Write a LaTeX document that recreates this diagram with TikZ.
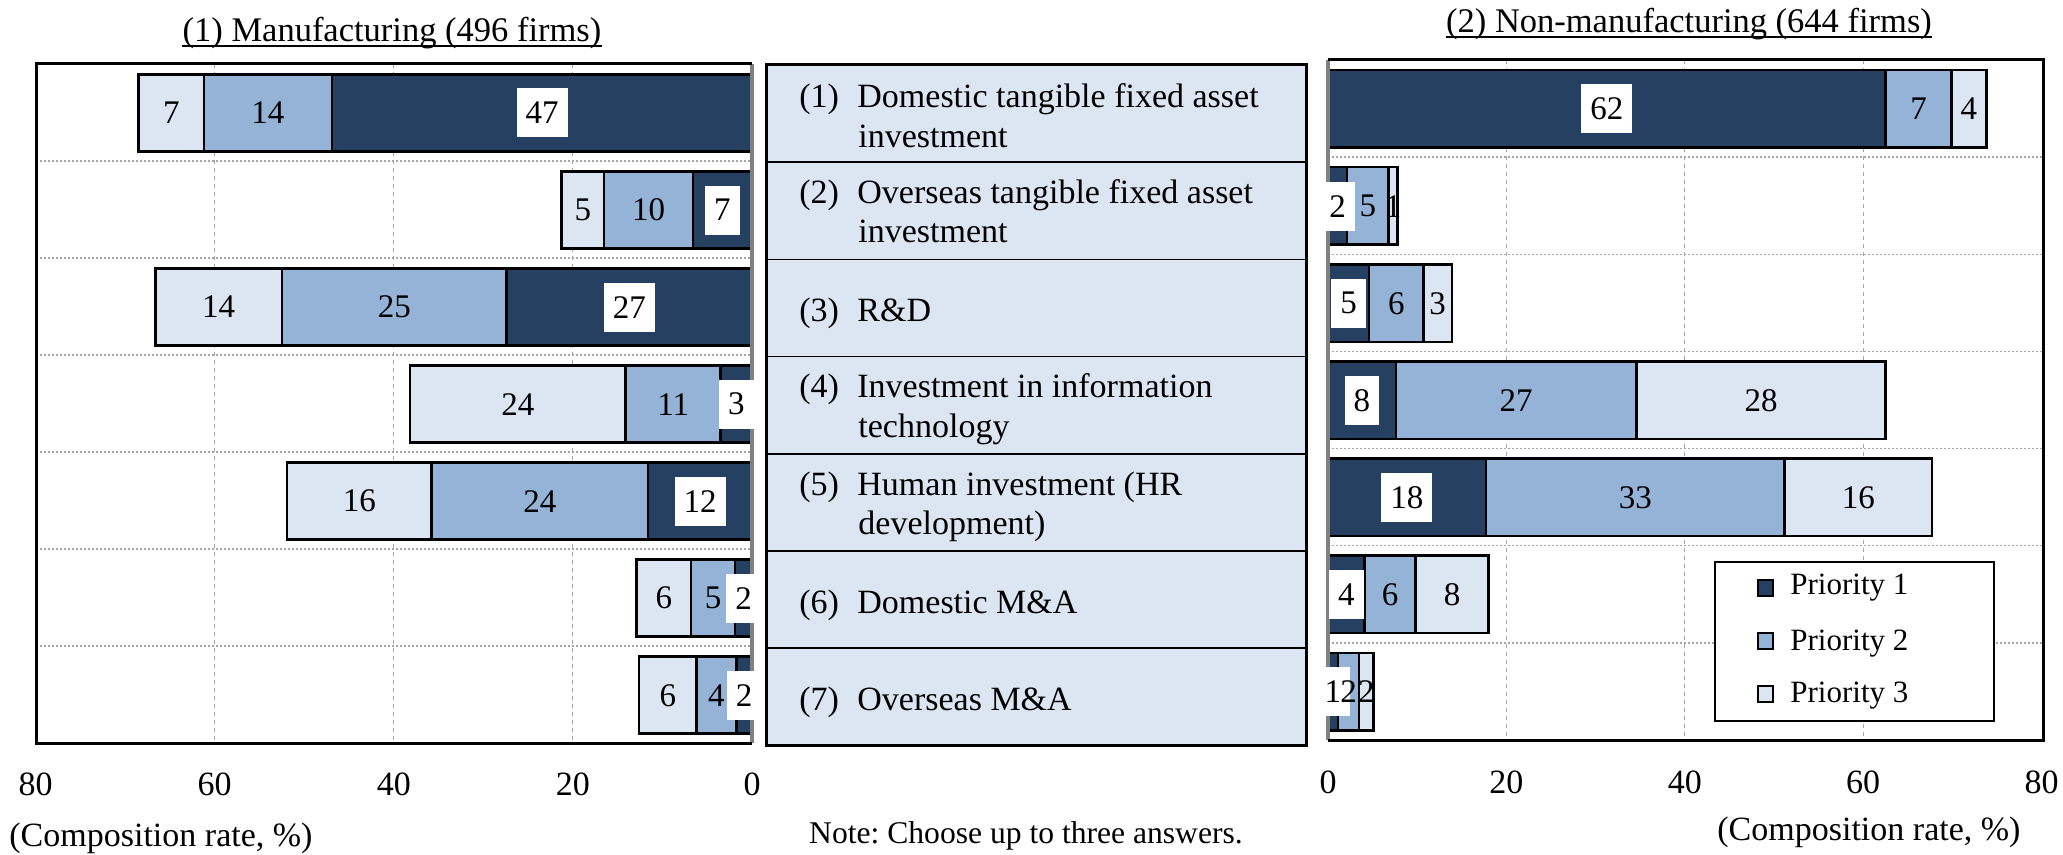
\documentclass[tikz,border=0pt]{standalone}
\usepackage{fontspec}
\setmainfont{Liberation Serif}
\frenchspacing
\definecolor{pone}{RGB}{38,64,97}
\definecolor{ptwo}{RGB}{149,179,215}
\definecolor{pthree}{RGB}{220,230,242}
\definecolor{midfill}{RGB}{220,230,242}
\definecolor{gridgray}{RGB}{166,166,166}
\definecolor{axisgray}{RGB}{128,128,128}
\tikzset{
  seg/.style={draw=black, line width=1.25pt},
  vgrid/.style={draw=gridgray, line width=0.5pt, dash pattern=on 2pt off 2pt},
  hgrid/.style={draw=gridgray, line width=0.75pt, dash pattern=on 1pt off 1pt},
  txt/.style={font=\fontsize{17}{20}\selectfont, inner sep=0pt},
  lgtxt/.style={font=\fontsize{15.5}{18}\selectfont, inner sep=0pt, anchor=base west},
  lbl/.style={font=\fontsize{16.5}{18}\selectfont, inner sep=0pt},
  wlbl/.style={lbl, fill=white, inner xsep=4.5pt, inner ysep=0pt, minimum height=24.5pt},
  frameline/.style={draw=black, line width=1.5pt},
  axisline/.style={draw=axisgray, line width=1.75pt},
  rowline/.style={draw=black, line width=0.8pt}
}
\def\leftdata{1/46.9/61.2/68.5/47/14/7,2/6.6/16.5/21.3/7/10/5,3/27.4/52.5/66.6/27/25/14,4/3.5/14.1/38.2/3/11/24,5/11.6/35.8/51.9/12/24/16,6/1.9/6.8/12.9/2/5/6,7/1.75/6.2/12.6/2/4/6}
\def\rightdata{1/62.5/69.9/73.8/62/7/4,2/2.15/6.8/7.8/2/5/1,3/4.6/10.7/13.9/5/6/3,4/7.6/34.6/62.5/8/27/28,5/17.7/51.2/67.7/18/33/16,6/4.1/9.8/18.0/4/6/8,7/1.1/3.5/5.1/1/2/2}
\begin{document}
\begin{tikzpicture}[x=0.5pt,y=-0.5pt]
\useasboundingbox (0,0) rectangle (2063,855);

% titles
\node[txt, font=\fontsize{17.25}{20}\selectfont, anchor=base] (t1) at (392,42) {(1) Manufacturing (496 firms)};
\draw[line width=1pt] ([yshift=-2pt]t1.base west) -- ([yshift=-2pt]t1.base east);
\node[txt, font=\fontsize{17.25}{20}\selectfont, anchor=base] (t2) at (1689,33) {(2) Non-manufacturing (644 firms)};
\draw[line width=1pt] ([yshift=-2pt]t2.base west) -- ([yshift=-2pt]t2.base east);

% ---------- left panel grid
\foreach \v in {20,40,60}{
  \draw[vgrid] ({752-8.955*\v},64) -- ({752-8.955*\v},743);
}
\foreach \k in {1,...,6}{
  \draw[hgrid] (36,{64+97.04*\k}) -- (752,{64+97.04*\k});
}
% ---------- left bars
\foreach \r/\a/\b/\c/\la/\lb/\lc in \leftdata {
  \pgfmathsetmacro\ya{64+97.04*(\r-1)+10.5}
  \pgfmathsetmacro\yb{64+97.04*(\r-1)+87.5}
  \pgfmathsetmacro\xa{752-8.955*\a}
  \pgfmathsetmacro\xb{752-8.955*\b}
  \pgfmathsetmacro\xc{752-8.955*\c}
  \draw[seg, fill=pthree] (\xc,\ya) rectangle (\xb,\yb);
  \draw[seg, fill=ptwo] (\xb,\ya) rectangle (\xa,\yb);
  \draw[seg, fill=pone] (\xa,\ya) rectangle (752,\yb);
}
\draw[axisline] (752,64) -- (752,743);
\begin{scope}
\clip (36,64) rectangle (754,743);
\foreach \r/\a/\b/\c/\la/\lb/\lc in \leftdata {
  \pgfmathsetmacro\ym{64+97.04*(\r-1)+49}
  \pgfmathsetmacro\xa{752-8.955*\a}
  \node[wlbl] (La\r) at ({(\xa+752)/2},\ym) {\la};
}
\end{scope}
\foreach \r/\a/\b/\c/\la/\lb/\lc in \leftdata {
  \pgfmathsetmacro\ym{64+97.04*(\r-1)+49}
  \pgfmathsetmacro\xa{752-8.955*\a}
  \pgfmathsetmacro\xb{752-8.955*\b}
  \pgfmathsetmacro\xc{752-8.955*\c}
  \node[lbl] (Lb\r) at ({(\xa+\xb)/2},\ym) {\lb};
  \node[lbl] (Lc\r) at ({(\xb+\xc)/2},\ym) {\lc};
}
\draw[frameline] (752,64) -- (36,64) -- (36,743) -- (752,743);

% ---------- right panel grid
\foreach \v in {20,40,60}{
  \draw[vgrid] ({1328+8.92*\v},60) -- ({1328+8.92*\v},740);
}
\foreach \k in {1,...,6}{
  \draw[hgrid] (1328,{60+97.14*\k}) -- (2043,{60+97.14*\k});
}
\foreach \r/\a/\b/\c/\la/\lb/\lc in \rightdata {
  \pgfmathsetmacro\ya{60+97.14*(\r-1)+10}
  \pgfmathsetmacro\yb{60+97.14*(\r-1)+87.5}
  \pgfmathsetmacro\xa{1328+8.92*\a}
  \pgfmathsetmacro\xb{1328+8.92*\b}
  \pgfmathsetmacro\xc{1328+8.92*\c}
  \draw[seg, fill=pone] (1328,\ya) rectangle (\xa,\yb);
  \draw[seg, fill=ptwo] (\xa,\ya) rectangle (\xb,\yb);
  \draw[seg, fill=pthree] (\xb,\ya) rectangle (\xc,\yb);
}
\draw[axisline] (1328,60) -- (1328,740);
\begin{scope}
\clip (1320,60) rectangle (2043,740);
\foreach \r/\a/\b/\c/\la/\lb/\lc in \rightdata {
  \pgfmathsetmacro\ym{60+97.14*(\r-1)+49}
  \pgfmathsetmacro\xa{1328+8.92*\a}
  \node[wlbl] (Ra\r) at ({(\xa+1328)/2},\ym) {\la};
}
\end{scope}
\foreach \r/\a/\b/\c/\la/\lb/\lc in \rightdata {
  \pgfmathsetmacro\ym{60+97.14*(\r-1)+49}
  \pgfmathsetmacro\xa{1328+8.92*\a}
  \pgfmathsetmacro\xb{1328+8.92*\b}
  \pgfmathsetmacro\xc{1328+8.92*\c}
  \node[lbl] (Rb\r) at ({(\xa+\xb)/2},\ym) {\lb};
  \node[lbl] (Rc\r) at ({(\xb+\xc)/2},\ym) {\lc};
}
\draw[frameline] (1328,60) -- (2043,60) -- (2043,740) -- (1328,740);

% ---------- legend
\draw[draw=black, line width=1.25pt, fill=white] (1715,562) rectangle (1994,721);
\draw[line width=1pt, fill=pone] (1758,580) rectangle (1773,596);
\draw[line width=1pt, fill=ptwo] (1758,633) rectangle (1773,649);
\draw[line width=1pt, fill=pthree] (1758,686) rectangle (1773,702);
\node[lgtxt] (lg1) at (1790,595) {Priority 1};
\node[lgtxt] (lg2) at (1790,650) {Priority 2};
\node[lgtxt] (lg3) at (1790,703) {Priority 3};

% ---------- middle box
\draw[frameline, fill=midfill] (766,65) rectangle (1306,745.5);
\foreach \k in {1,...,6}{
  \draw[rowline] (766,{65+97.21*\k}) -- (1306,{65+97.21*\k});
}
\foreach \r/\n/\la/\lb/\off in {1/(1)/Domestic tangible fixed asset/investment/43,
  2/(2)/Overseas tangible fixed asset/investment/41,
  4/(4)/Investment in information/technology/41,
  5/(5)/Human investment (HR/development)/41.5}{
  \pgfmathsetmacro\yy{65+97.21*(\r-1)+\off}
  \node[txt, anchor=base west] (Mn\r) at (799,\yy) {\n};
  \node[txt, anchor=base west] (Ma\r) at (857,\yy) {\la};
  \node[txt, anchor=base west] (Mb\r) at (858,{\yy+39.5}) {\lb};
}
\foreach \r/\n/\la in {3/(3)/R\&D, 6/(6)/Domestic M\&A, 7/(7)/Overseas M\&A}{
  \pgfmathsetmacro\yy{65+97.21*(\r-1)+62}
  \node[txt, anchor=base west] (Mn\r) at (799,\yy) {\n};
  \node[txt, anchor=base west] (Ma\r) at (857,\yy) {\la};
}

% ---------- axis tick labels
\foreach \v in {0,20,40,60,80}{
  \node[txt, anchor=base] (tl\v) at ({752-8.955*\v},795) {\v};
  \node[txt, anchor=base] (tr\v) at ({1328+8.92*\v},793) {\v};
}
\node[txt, anchor=base west] (cl) at (9,846) {(Composition rate, \%)};
\node[txt, anchor=base west] (cr) at (1717,840) {(Composition rate, \%)};
\node[txt, font=\fontsize{15.8}{18}\selectfont, anchor=base] (note) at (1026,843) {Note: Choose up to three answers.};
\end{tikzpicture}
\end{document}
